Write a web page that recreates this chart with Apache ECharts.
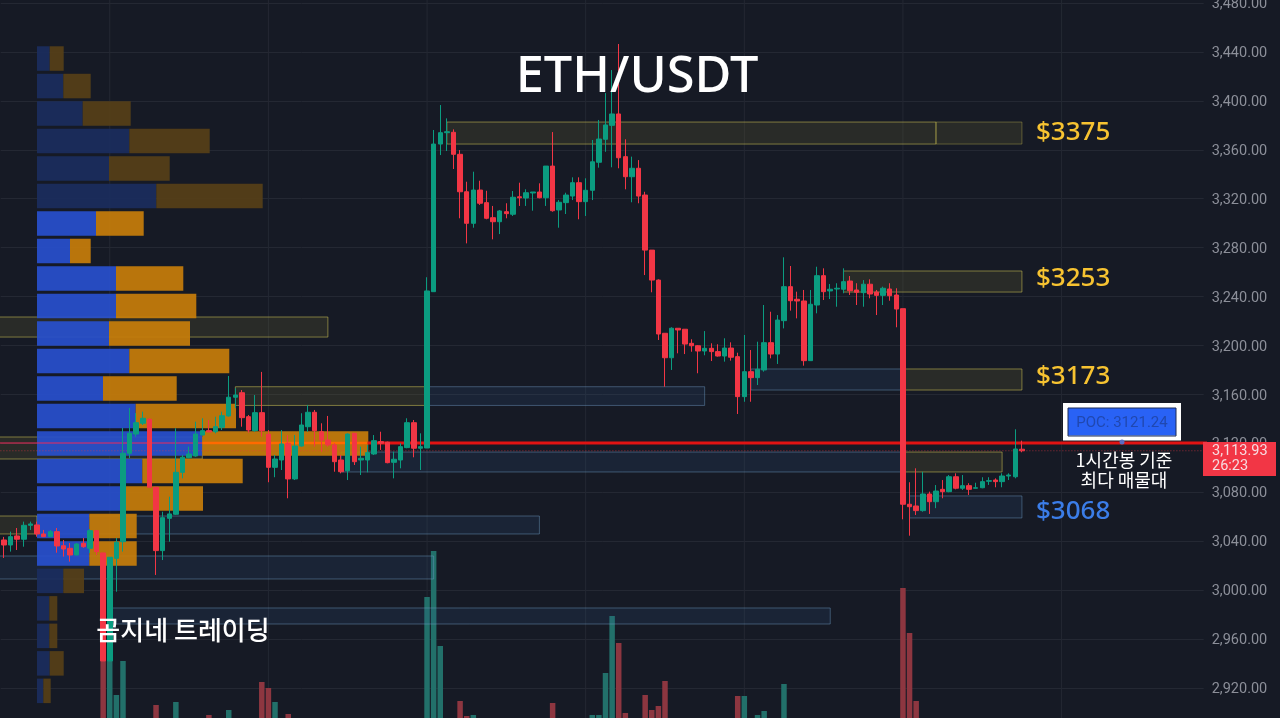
<!DOCTYPE html>
<html>
<head>
<meta charset="utf-8">
<title>ETH/USDT</title>
<script src="https://cdn.jsdelivr.net/npm/echarts@6/dist/echarts.min.js"></script>
<style>
html, body { margin: 0; padding: 0; background: #161a25; }
#main { width: 1280px; height: 718px; }
</style>
</head>
<body>
<div id="main"></div>
<script>
// [open, close, low, high]
var ohlc = [
[3041,3036.9,3026.3,3043.5],[3036.9,3043.7,3031.5,3047.8],[3044.3,3041.6,3032.8,3050.8],[3041.6,3053,3035.5,3056],
[3053,3054.1,3049.2,3056],[3053.3,3045.9,3043.7,3056],[3045.9,3043.7,3043.7,3049.2],[3043.7,3047.8,3043.5,3049.2],
[3047.8,3036.1,3030.6,3050.8],[3036.3,3033.6,3027.4,3041],[3034.2,3028.7,3023.3,3038.5],[3028.7,3037.7,3028.7,3038.5],
[3038.3,3035.5,3034.7,3042.6],[3034.2,3048.6,3030.4,3050],[3048.6,3031.5,3028.7,3049.2],[3030.4,2942.1,2942.1,3030.4],
[2942.1,3026.9,2942.1,3026.9],[3026,3039.1,2998.7,3042.6],[3039.6,3111.9,3031.5,3132.6],[3111.9,3128.2,3108,3148.9],
[3127.6,3136.9,3125.4,3144.8],[3136.4,3140.5,3135,3145.9],[3139.7,3084.1,3084.1,3140.5],[3084.1,3032.3,3012.4,3084.1],
[3032.3,3059.2,3024.6,3064.1],[3058.7,3062.3,3039.6,3076.4],[3062,3096.3,3061.4,3132.3],[3096.3,3108.6,3091.4,3110.5],
[3108.3,3111.3,3107.8,3117.3],[3109.7,3127.6,3109.1,3137.7],[3126.8,3130.4,3126.8,3140.5],[3130.4,3129.3,3129.3,3139.1],
[3129.5,3133.6,3128.2,3141.8],[3133.1,3142.6,3130.9,3145.9],[3142.4,3157.7,3141.8,3175.1],[3157.7,3159.5,3148.7,3165],
[3161.4,3141,3133.6,3163.6],[3141.8,3130.9,3128.7,3143.2],[3130.4,3145.1,3129.5,3159.5],[3145.1,3130.4,3125.4,3178.4],
[3127.4,3100.4,3088.2,3130.9],[3100.4,3107.2,3092.3,3110.5],[3106.4,3119.5,3098.2,3130.9],[3120.1,3090.9,3075.1,3126.8],
[3090.9,3117.8,3090,3126.8],[3117.8,3135,3117.3,3144.6],[3133.6,3145.4,3129.5,3151.4],[3145.4,3130.4,3117.3,3147.3],
[3129.5,3122.7,3113.2,3136.4],[3122.7,3118.7,3117.3,3142.4],[3118.7,3105,3096.8,3120.1],[3106.4,3096.8,3095.5,3110.5],
[3097.6,3127.6,3090,3128.2],[3128.2,3105,3102.3,3128.2],[3106.4,3107.8,3094.1,3117.3],[3106.4,3112.4,3096.3,3118.7],
[3111.3,3122.2,3110.5,3126.8],[3121.4,3120.1,3114.6,3129.5],[3120.9,3104.2,3103.7,3121.4],[3104.5,3107,3091.4,3113.2],
[3106.4,3117.3,3099.6,3120.1],[3116.5,3136.9,3116,3140.5],[3136.9,3116,3108.6,3139.1],[3116,3117.3,3098.2,3128.2],
[3116.2,3244.6,3116.2,3255.8],[3244,3364.7,3244,3376.2],[3364.7,3374,3355.7,3396.6],[3374,3374.8,3359,3385.7],
[3374.3,3356.3,3344.3,3376.7],[3356.3,3325.7,3304,3359.8],[3325.7,3299.9,3283.5,3333.9],[3299.9,3327.1,3296.3,3342.1],
[3327.1,3316.3,3314.9,3334.7],[3316.8,3304,3303.2,3326.5],[3304.5,3301.2,3286.8,3314.1],[3301.2,3310,3291.1,3310.8],
[3309.4,3307.8,3304,3316.3],[3307.3,3321.2,3305.9,3326.3],[3321.6,3320.8,3314.1,3333.1],[3320.6,3324.9,3314.1,3327.7],
[3324.7,3325.5,3310.2,3325.5],[3325.5,3320.8,3320.3,3332.6],[3320.8,3346.7,3314.1,3346.7],[3346.7,3310.2,3309.4,3374.5],
[3310.8,3317.1,3296.3,3318.9],[3316.8,3323,3307.5,3324.9],[3322.2,3333.1,3318.9,3337.5],[3333.1,3317.6,3303.2,3337.5],
[3317.6,3326.9,3305.9,3336.7],[3326.9,3350.2,3318.9,3368],[3349.8,3368.8,3345.4,3384.4],[3368.6,3380.3,3358.4,3406.4],
[3380,3389.3,3345.7,3425.2],[3389.3,3353.5,3344.9,3446.5],[3354.4,3338,3327.7,3368.6],[3338,3344.9,3317.1,3354.4],
[3344.9,3322.2,3316.3,3351.6],[3323,3278,3257.6,3325.7],[3278,3253.5,3243.5,3278],[3253.5,3209.4,3204.5,3254.1],
[3210,3190,3166.3,3210.2],[3190,3214.1,3180,3214.9],[3214.1,3212.7,3193.6,3214.1],[3213.3,3201.2,3193,3213.3],
[3201.8,3199.8,3194.9,3205.1],[3199.8,3195.5,3177.3,3200.4],[3195.5,3197.7,3192,3211.8],[3197.7,3195,3187.3,3201.8],
[3195,3191.4,3190.9,3201],[3191.4,3197.9,3186.8,3205.9],[3197.9,3190.4,3187.6,3202.6],[3190.9,3158.2,3144,3194.1],
[3158.2,3178.6,3154,3208.6],[3178.6,3173.7,3154,3196.3],[3173.7,3180.6,3167.7,3203.1],[3180,3202.3,3178.6,3233.1],
[3202.3,3193,3189.5,3227.6],[3193,3220.8,3184.9,3224.9],[3220.3,3248.1,3214,3272.1],[3248.1,3236.6,3228.5,3265],
[3237.8,3236.4,3222.2,3244],[3236.4,3187.6,3183.5,3245.4],[3187.6,3233.7,3187.6,3245.4],[3233.1,3257.1,3226.3,3264.4],
[3257.1,3244,3237.2,3263.1],[3244.6,3246,3238,3250.3],[3246.2,3246.8,3231.7,3250.9],[3246,3252.2,3242.7,3263.1],
[3252.7,3244.8,3241.3,3256.8],[3245.4,3243.5,3233.1,3250.9],[3243.2,3250.1,3231.7,3253.5],[3250.1,3242.1,3238.6,3254.1],
[3243.7,3241,3224.9,3245.4],[3241,3246.8,3233.1,3248.1],[3246.2,3240.7,3236.6,3250.9],[3241.3,3229.8,3214.9,3246.8],
[3230.1,3070.2,3057.9,3230.1],[3070.2,3068.2,3044.5,3088.2],[3068.8,3065,3061.4,3099.6],[3065,3078.6,3064.1,3096.8],
[3078.6,3072.3,3062.3,3080.5],[3072.3,3081,3067,3085.9],[3082.4,3080.5,3075.1,3090],[3080.5,3092.7,3080,3094.1],
[3092.7,3083.3,3082.4,3095.5],[3083.3,3085.4,3081.9,3094.1],[3085.4,3082.4,3077.8,3087.4],[3083.3,3083.7,3083.3,3087.8],
[3083.7,3088.7,3083.3,3092.3],[3089,3089.5,3086,3092.3],[3090,3088.7,3084.1,3091.4],[3088.7,3093.3,3084.1,3095.5],
[3093.3,3094.1,3090,3095.5],[3092.7,3115.4,3091.4,3131.5],[3115.2,3113.93,3112.7,3122.2]
];

// only the volume bars that stick out above the bottom of the picture: [candle index, volume]
var volumes = [
[15,57],[16,57],[17,23],[18,57],[23,13],[26,16],[31,3],[34,8],[39,36],[40,30],[41,16],[43,4],
[64,121],[65,167],[66,72],[69,17],[70,2],[71,3],[83,15],[89,3],[90,3],[91,45],[92,102],[93,75],[94,5],
[97,23],[98,8],[99,12],[100,37],[111,22],[112,22],[114,3],[115,7],[118,34],[136,130],[137,85],[138,17]
];

// volume profile, top row first
var vpRows = ['r1','r2','r3','r4','r5','r6','r7','r8','r9','r10','r11','r12','r13','r14','r15','r16','r17','r18','r19','r20','r21','r22','r23','r24'];
var vpBuy = [12.7,26.3,45.7,92.3,72,119.3,59,33,79,79,72,92.3,66,98.7,165.3,105.3,89,52.3,52.3,26.3,12.3,12.3,12.7,6.3];
var vpSell = [14,27.4,48,80.4,60.7,106.4,47.7,20.7,67.3,80.3,81,100,73.7,100.3,166,100.4,77,47.4,47.4,20.7,8,8,14,7.4];
var vpDim = [0,1,2,3,4,5,19,20,21,22,23];

// [start candle, end candle, price low, price high]
var yellowZones = [
[67,141,3364.7,3382.7],[127,154,3243.7,3260.9],[-1,49,3206.9,3223.3],[136,154,3163.6,3180.8],
[35,64,3151,3166.3],[-1,30,3107.2,3125.2],[136,151,3096.6,3112.9],[-1,5,3045.9,3060.6]
];
var yellowDimZones = [[141,154,3364.7,3382.7]];
var blueZones = [
[113,136,3163.6,3180.8],[64,106,3151,3166.3],[51,136,3096.6,3112.9],[5,81,3045.9,3060.6],
[-1,65,3009.1,3027.9],[16,125,2972.3,2985.4],[137,154,3059,3077]
];

var pocPrice = 3120.2;
var lastPrice = 3113.93;
var pocLeft = [[-1,30]], pocMid = [[30,55]], pocRight = [[55,182]];
var sessionLines = [[16],[40],[64],[88],[112],[136],[160]];

var categories = [];
for (var i = 0; i < 182; i++) categories.push(String(i));

var UP = '#0b9c80', DOWN = '#f23645';

function zoneSeries(name, data, fill, stroke, z) {
    return {
        type: 'custom', name: name, data: data, xAxisIndex: 0, yAxisIndex: 0, z: z, silent: true,
        encode: { x: [0, 1], y: [2, 3] },
        renderItem: function (params, api) {
            var a = api.coord([api.value(0), api.value(3)]);
            var b = api.coord([api.value(1), api.value(2)]);
            return {
                type: 'rect',
                shape: { x: a[0], y: a[1], width: b[0] - a[0], height: b[1] - a[1] },
                style: { fill: fill, stroke: stroke, lineWidth: 1 }
            };
        }
    };
}

function hLine(name, segs, price, color, width, dash, z) {
    return {
        type: 'custom', name: name, data: segs, xAxisIndex: 0, yAxisIndex: 0, z: z, silent: true,
        encode: { x: [0, 1] },
        renderItem: function (params, api) {
            var a = api.coord([api.value(0), price]);
            var b = api.coord([api.value(1), price]);
            return {
                type: 'line',
                shape: { x1: a[0], y1: a[1], x2: b[0], y2: b[1] },
                style: { stroke: color, lineWidth: width, lineDash: dash }
            };
        }
    };
}

var myChart = echarts.init(document.getElementById('main'));

myChart.setOption({
    animation: false,
    backgroundColor: '#161a25',
    grid: [
        { left: 0.7, right: 76.3, top: -45.9, bottom: -18.9, outerBoundsMode: 'none' },
        { left: 0.7, right: 76.3, top: 500, bottom: 0, outerBoundsMode: 'none' },
        { left: 37, right: 77, top: 44.8, height: 659.8, outerBoundsMode: 'none' }
    ],
    xAxis: [
        { type: 'category', gridIndex: 0, data: categories, show: false },
        { type: 'category', gridIndex: 1, data: categories, show: false },
        { type: 'value', gridIndex: 2, min: 0, max: 1166, show: false }
    ],
    yAxis: [
        {
            type: 'value', gridIndex: 0, position: 'right', min: 2880, max: 3520, interval: 40,
            axisLine: { show: false }, axisTick: { show: false },
            splitLine: { lineStyle: { color: '#242833', width: 1 } },
            axisLabel: {
                color: '#8c8f99', fontFamily: 'Roboto', fontSize: 14.5, margin: 8, verticalAlign: 'top', lineHeight: 3,
                formatter: function (v) {
                    return v.toLocaleString('en-US', { minimumFractionDigits: 2, maximumFractionDigits: 2 });
                }
            }
        },
        { type: 'value', gridIndex: 1, min: 0, max: 218, show: false },
        { type: 'category', gridIndex: 2, inverse: true, data: vpRows, show: false }
    ],
    series: [
        {
            type: 'custom', name: 'sessions', data: sessionLines, xAxisIndex: 0, yAxisIndex: 0, z: 0, silent: true,
            encode: { x: 0 },
            renderItem: function (params, api) {
                var x = api.coord([api.value(0), 3000])[0];
                return { type: 'line', shape: { x1: x, y1: 0, x2: x, y2: 718 }, style: { stroke: '#242833', lineWidth: 1 } };
            }
        },
        {
            type: 'bar', name: 'volume', xAxisIndex: 1, yAxisIndex: 1, data: volumes, barWidth: 5.5, z: 1, silent: true,
            itemStyle: {
                color: function (p) {
                    var c = ohlc[p.value[0]];
                    return c[1] >= c[0] ? '#22706a' : '#8d3640';
                }
            }
        },
        zoneSeries('yellow', yellowZones, 'rgba(125,120,55,0.18)', 'rgba(190,180,80,0.6)', 2),
        zoneSeries('yellowDim', yellowDimZones, 'rgba(125,120,55,0.18)', 'rgba(190,180,80,0.4)', 2),
        zoneSeries('blue', blueZones, 'rgba(50,95,140,0.16)', 'rgba(110,155,195,0.45)', 2),
        {
            type: 'bar', name: 'buy', xAxisIndex: 2, yAxisIndex: 2, stack: 'vp', barWidth: 24.5, z: 3, silent: true,
            data: vpBuy.map(function (v, i) {
                return { value: v, itemStyle: { opacity: 0.93, color: vpDim.indexOf(i) >= 0 ? '#1b2d5e' : '#2850cc' } };
            })
        },
        {
            type: 'bar', name: 'sell', xAxisIndex: 2, yAxisIndex: 2, stack: 'vp', barWidth: 24.5, z: 3, silent: true,
            data: vpSell.map(function (v, i) {
                return { value: v, itemStyle: { opacity: 0.93, color: vpDim.indexOf(i) >= 0 ? '#564018' : '#c67d0b' } };
            })
        },
        hLine('pocLeft', pocLeft, pocPrice, 'rgba(235,40,90,0.5)', 2, null, 4),
        hLine('pocMid', pocMid, pocPrice, '#ff6a00', 2.5, null, 4),
        hLine('pocRight', pocRight, pocPrice, '#e01313', 3, null, 4),
        hLine('last', [[-1,182]], lastPrice, 'rgba(242,54,69,0.6)', 1, [1, 2], 4),
        {
            type: 'candlestick', name: 'ETH/USDT', xAxisIndex: 0, yAxisIndex: 0, data: ohlc, barWidth: 5, z: 5, silent: true,
            itemStyle: { color: UP, color0: DOWN, borderColor: UP, borderColor0: DOWN, borderWidth: 1 }
        }
    ],
    graphic: [
        { type: 'rect', z: 90, shape: { x: 1203, y: 442, width: 73, height: 34 }, style: { fill: '#f23645' } },
        { type: 'text', z: 91, x: 1212, y: 451, style: { text: '3,113.93', fill: '#f7dbe0', font: '14.5px Roboto', textVerticalAlign: 'middle' } },
        { type: 'text', z: 91, x: 1212, y: 466, style: { text: '26:23', fill: '#f7dbe0', font: '14.5px Roboto', textVerticalAlign: 'middle' } },

        { type: 'text', z: 95, x: 637, y: 78, style: { text: 'ETH/USDT', fill: '#ffffff', font: '500 50.5px "Noto Sans"', textAlign: 'center', textVerticalAlign: 'middle' } },
        { type: 'text', z: 95, x: 1036, y: 133, style: { text: '$3375', fill: '#f7c331', font: '500 26px "Noto Sans"', textVerticalAlign: 'middle' } },
        { type: 'text', z: 95, x: 1036, y: 279, style: { text: '$3253', fill: '#f7c331', font: '500 26px "Noto Sans"', textVerticalAlign: 'middle' } },
        { type: 'text', z: 95, x: 1036, y: 377, style: { text: '$3173', fill: '#f7c331', font: '500 26px "Noto Sans"', textVerticalAlign: 'middle' } },
        { type: 'text', z: 95, x: 1036, y: 512, style: { text: '$3068', fill: '#3b7de8', font: '500 26px "Noto Sans"', textVerticalAlign: 'middle' } },

        { type: 'rect', z: 95, shape: { x: 1065.5, y: 405.5, width: 113, height: 32.5 }, style: { fill: '#2962f5', stroke: '#ffffff', lineWidth: 5 } },
        { type: 'rect', z: 96, shape: { x: 1068, y: 408, width: 108, height: 28 }, style: { fill: 'none', stroke: '#1c2a55', lineWidth: 1 } },
        { type: 'text', z: 96, x: 1122, y: 423, style: { text: 'POC: 3121.24', fill: '#2048b0', font: '15px Roboto', textAlign: 'center', textVerticalAlign: 'middle' } },
        { type: 'circle', z: 96, shape: { cx: 1122, cy: 442, r: 2.5 }, style: { fill: '#5a6cc4' } },
        { type: 'text', z: 95, x: 1124, y: 460, style: { text: '1시간봉 기준', fill: '#ffffff', font: '18px "Noto Sans CJK KR"', textAlign: 'center', textVerticalAlign: 'middle' } },
        { type: 'text', z: 95, x: 1124, y: 480, style: { text: '최다 매물대', fill: '#ffffff', font: '18px "Noto Sans CJK KR"', textAlign: 'center', textVerticalAlign: 'middle' } },
        { type: 'text', z: 95, x: 183, y: 630, style: { text: '곰지네 트레이딩', fill: '#ffffff', font: '500 26px "Noto Sans CJK KR"', textAlign: 'center', textVerticalAlign: 'middle' } }
    ]
});
</script>
</body>
</html>
